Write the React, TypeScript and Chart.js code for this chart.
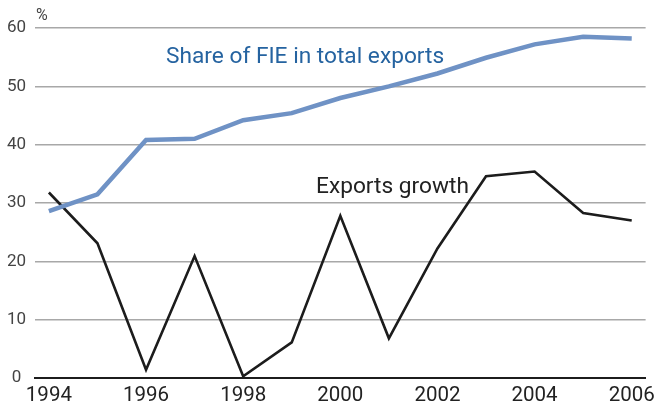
import React, { useEffect, useRef } from "react";
import { Chart, registerables } from "chart.js";

Chart.register(...registerables);

const years = [1994, 1995, 1996, 1997, 1998, 1999, 2000, 2001, 2002, 2003, 2004, 2005, 2006];
const fieShare = [28.6, 31.5, 40.8, 41.0, 44.2, 45.4, 48.0, 50.0, 52.2, 54.9, 57.2, 58.5, 58.2];
const exportsGrowth = [31.8, 23.1, 1.4, 20.9, 0.3, 6.1, 27.8, 6.8, 22.2, 34.6, 35.4, 28.3, 27.0];
const xTickLabels = [1994, 1996, 1998, 2000, 2002, 2004, 2006];
const yTickValues = [0, 10, 20, 30, 40, 50, 60];
const fieLabel = "Share of FIE in total exports";
const growthLabel = "Exports growth";
const unitLabel = "%";

const FONT = "Roboto, 'Open Sans', sans-serif";

const annotations = {
  id: "annotations",
  afterDraw(chart: any) {
    const ctx = chart.ctx;
    ctx.save();
    ctx.textBaseline = "alphabetic";
    ctx.textAlign = "left";
    ctx.fillStyle = "#444444";
    ctx.font = `16px ${FONT}`;
    ctx.fillText(unitLabel, 36, 20);
    ctx.fillStyle = "#2563a0";
    ctx.font = `22.7px ${FONT}`;
    ctx.fillText(fieLabel, 166, 63);
    ctx.fillStyle = "#222222";
    ctx.font = `22.7px ${FONT}`;
    ctx.fillText(growthLabel, 316, 193);
    ctx.restore();
  },
};

export default function App() {
  const ref = useRef<HTMLCanvasElement>(null);
  useEffect(() => {
    if (!ref.current) return;
    const chart = new Chart(ref.current, {
      type: "line",
      data: {
        datasets: [
          {
            label: fieLabel,
            data: years.map((y, i) => ({ x: y, y: fieShare[i] })),
            borderColor: "#6f92c5",
            borderWidth: 4.5,
            pointRadius: 0,
            tension: 0,
            fill: false,
          },
          {
            label: growthLabel,
            data: years.map((y, i) => ({ x: y, y: exportsGrowth[i] })),
            borderColor: "#1c1c1c",
            borderWidth: 2.6,
            pointRadius: 0,
            tension: 0,
            fill: false,
          },
        ],
      },
      options: {
        animation: false,
        responsive: false,
        layout: { padding: { top: 28, right: 10, left: 0, bottom: 0 } },
        plugins: {
          legend: { display: false },
          tooltip: { enabled: false },
        },
        scales: {
          x: {
            type: "linear",
            min: 1993.714,
            max: 2006.286,
            afterBuildTicks: (scale: any) => {
              scale.ticks = xTickLabels.map((v) => ({ value: v }));
            },
            afterFit: (scale: any) => {
              scale.height = 30;
            },
            grid: { display: false, drawTicks: false },
            border: { display: true, color: "#1c1c1c", width: 2 },
            ticks: {
              padding: 6,
              color: "#222222",
              font: { family: FONT, size: 20.5 },
              callback: (v: any) => String(v),
              maxRotation: 0,
              autoSkip: false,
            },
          },
          y: {
            min: 0,
            max: 60,
            afterBuildTicks: (scale: any) => {
              scale.ticks = yTickValues.map((v) => ({ value: v }));
            },
            afterFit: (scale: any) => {
              scale.width = 35;
            },
            grid: { color: "#a8a8a8", lineWidth: 1.5, drawTicks: false },
            border: { display: false },
            ticks: {
              padding: 9,
              crossAlign: "center",
              color: "#444444",
              font: { family: FONT, size: 17 },
            },
          },
        },
      },
      plugins: [annotations],
    } as any);
    return () => chart.destroy();
  }, []);
  return (
    <div style={{ position: "absolute", left: 0, top: 0, width: 661, height: 408, background: "#fff" }}>
      <canvas ref={ref} width={661} height={408} style={{ width: 661, height: 408 }} />
    </div>
  );
}
